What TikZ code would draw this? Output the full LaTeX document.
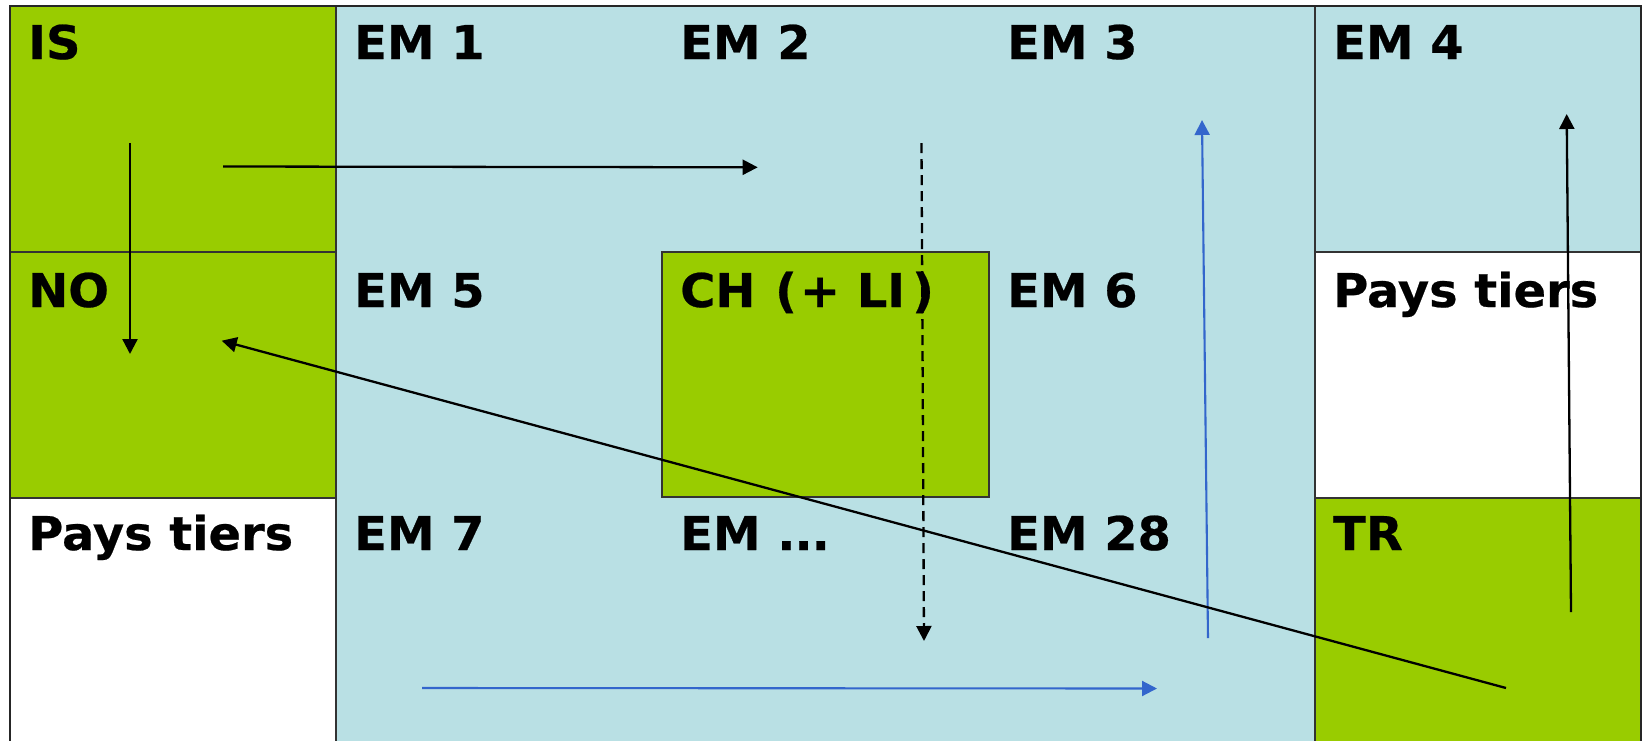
\documentclass[tikz,border=0pt]{standalone}
\usepackage{fontspec}
\setmainfont{DejaVu Sans}
\newfontfamily\lblfont{DejaVu Sans Bold}[FakeStretch=1.03, FakeBold=0.5]
\usetikzlibrary{arrows.meta}
\definecolor{cgreen}{HTML}{99CC00}
\definecolor{cblue}{HTML}{B9E0E4}
\definecolor{carrow}{HTML}{3366CC}
\definecolor{cgrid}{HTML}{333333}
\begin{document}
\begin{tikzpicture}[x=1pt,y=-1pt,
  cell/.style={rectangle, draw=cgrid, line width=1.4pt, inner sep=0pt, outer sep=0pt, anchor=north west},
  lab/.style={anchor=base west, inner sep=0pt, font=\lblfont\fontsize{46.5}{50}\selectfont},
  arr/.style={line width=2.3pt, -{Triangle[length=15pt,width=15pt]}},
  barr/.style={line width=2.1pt, carrow, -{Triangle[length=15pt,width=15pt]}},
  darr/.style={line width=2.3pt, dash pattern=on 10pt off 6pt, -{Triangle[length=15pt,width=15pt]}}]
\useasboundingbox[fill=white] (0,0) rectangle (1642,740);
% cells
\node[cell, fill=cblue, minimum width=979pt, minimum height=745pt] (EMarea) at (336,6) {};
\node[cell, fill=cgreen, minimum width=326pt, minimum height=246pt] (IS) at (10,6) {};
\node[cell, fill=cgreen, minimum width=326pt, minimum height=246pt] (NO) at (10,252) {};
\node[cell, fill=white, minimum width=326pt, minimum height=253pt] (PT1) at (10,498) {};
\node[cell, fill=cgreen, minimum width=327pt, minimum height=245pt] (CH) at (662,252) {};
\node[cell, fill=cblue, minimum width=326pt, minimum height=246pt] (EM4) at (1315,6) {};
\node[cell, fill=white, minimum width=326pt, minimum height=246pt] (PT2) at (1315,252) {};
\node[cell, fill=cgreen, minimum width=326pt, minimum height=253pt] (TR) at (1315,498) {};
% outer frame
\draw[line width=2pt, black!85] (PT1.south west) -- (IS.north west) -- (EM4.north east) -- (TR.south east);
% labels
\node[lab] (tIS) at (28,59) {IS};
\node[lab] (tEM1) at (354,59) {EM 1};
\node[lab] (tEM2) at (680,59) {EM 2};
\node[lab] (tEM3) at (1007,59) {EM 3};
\node[lab] (tEM4) at (1333,59) {EM 4};
\node[lab] (tNO) at (28,307) {NO};
\node[lab] (tEM5) at (354,307) {EM 5};
\node[lab] (tCH) at (680,307) {CH\kern3pt{} (\kern3pt+ LI\kern7pt)};
\node[lab] (tEM6) at (1007,307) {EM 6};
\node[lab] (tPT2) at (1333,307) {Pays tiers};
\node[lab] (tPT1) at (28,550) {Pays tiers};
\node[lab] (tEM7) at (354,550) {EM 7};
\node[lab] (tEMd) at (680,550) {EM .\kern-1pt.\kern-1pt.};
\node[lab] (tEM28) at (1007,550) {EM 28};
\node[lab] (tTR) at (1333,550) {TR};
% arrow end points
\coordinate (a1s) at (130,143);  \coordinate (a1e) at (130,354);
\coordinate (a2s) at (223,166.5);\coordinate (a2e) at (757.7,167.3);
\coordinate (a3s) at (921.5,143);\coordinate (a3e) at (924,641);
\coordinate (a4s) at (1208,638); \coordinate (a4e) at (1202,120);
\coordinate (a5s) at (422,688);  \coordinate (a5e) at (1157,688.5);
\coordinate (a6s) at (1571,612); \coordinate (a6e) at (1566.7,114);
\coordinate (a7s) at (1506,688); \coordinate (a7e) at (221.7,340.7);
% arrows
\draw[arr] (a1s) -- (a1e);
\draw[arr] (a2s) -- (a2e);
\draw[darr] (a3s) -- (a3e);
\draw[barr] (a4s) -- (a4e);
\draw[barr] (a5s) -- (a5e);
\draw[arr] (a6s) -- (a6e);
\draw[arr] (a7s) -- (a7e);
\end{tikzpicture}
\end{document}
